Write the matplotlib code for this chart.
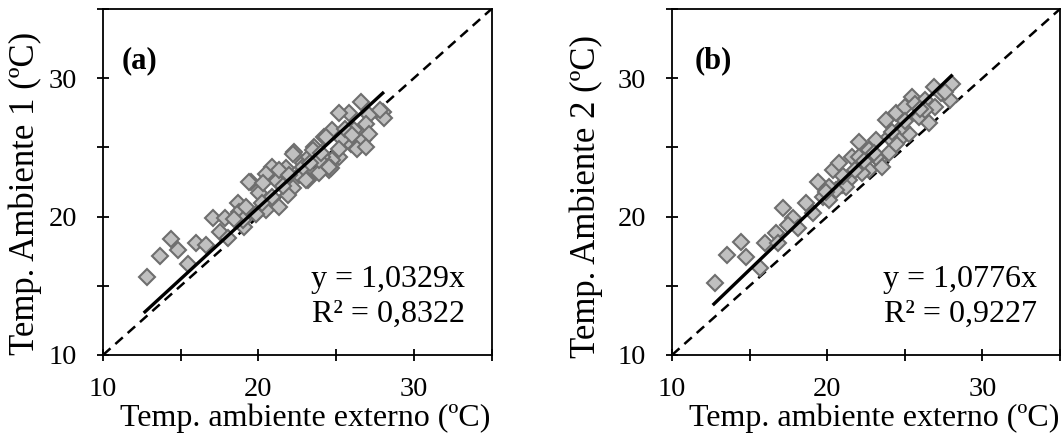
import matplotlib
matplotlib.use("Agg")
import matplotlib.pyplot as plt
import numpy as np
from matplotlib.ticker import MultipleLocator

plt.rcParams['font.family'] = ['Liberation Serif', 'DejaVu Serif']

# Panel (a) data: external ambient vs ambient 1
xa = [12.8, 13.65, 14.4, 14.83, 15.47, 16.0, 16.65, 17.07, 17.82, 17.5, 18.03, 18.67, 18.78, 19.1,
      19.53, 19.42, 22.3, 23.6, 24.2, 25.94, 26.37, 24.55, 23.9, 23.16, 22.2, 20.9, 20.5, 21.2,
      21.8, 20.06, 20.7, 21.35, 19.2, 19.85, 19.0, 22.84, 23.27, 25.2, 22.6, 21.9, 20.3,
      26.6, 28.0, 28.08, 25.83, 25.2, 27.1, 26.9, 26.15, 24.76, 24.34, 25.4, 26.7, 26.37, 27.1,
      25.2, 24.76, 24.1, 24.65, 26.9, 27.8, 22.2, 23.5, 23.06, 24.55, 23.9, 21.35, 20.9, 20.5,
      19.85, 22.84, 21.6, 22.0, 23.3, 24.0, 25.6, 26.0, 20.2, 18.4]
ya = [15.65, 17.15, 18.35, 17.6, 16.6, 18.1, 17.94, 19.87, 19.87, 18.9, 18.42, 20.95, 20.35, 19.26,
      22.5, 22.51, 24.68, 25.04, 25.76, 25.28, 24.92, 23.36, 23.12, 22.64, 22.03, 23.6, 23.1, 22.6,
      23.5, 21.67, 21.2, 20.7, 20.7, 20.2, 19.75, 23.85, 24.3, 24.3, 23.0, 21.55, 22.4,
      28.3, 27.57, 27.1, 27.45, 27.45, 27.33, 26.7, 26.25, 26.25, 25.76, 25.64, 25.5, 24.9, 26.0,
      24.9, 24.08, 24.3, 23.5, 25.04, 27.7, 24.55, 24.8, 22.63, 23.6, 24.08, 23.36, 21.4, 20.47,
      20.2, 23.6, 22.2, 23.0, 23.9, 24.6, 26.3, 25.9, 21.0, 19.8]

# Panel (b) data: external ambient vs ambient 2
xb = [12.76, 13.57, 14.47, 14.79, 15.64, 15.96, 16.71, 16.81, 17.13, 17.78, 18.1, 17.46, 18.63,
      19.06, 19.38, 19.7, 20.13, 20.34, 20.77, 20.98, 21.4, 21.62, 22.05, 22.26, 22.7, 23.12,
      22.7, 23.33, 23.76, 23.97, 24.4, 24.6, 25.04, 25.26, 25.47, 25.9, 26.33, 26.54, 26.86,
      26.97, 28.03, 27.93, 26.33, 24.83, 23.54, 22.26, 21.2, 20.56, 22.05, 24.4, 25.68, 23.97,
      23.12, 20.13, 21.8, 22.4, 23.0, 24.2, 25.0, 26.0, 27.3, 19.9, 21.0, 27.6]
yb = [15.18, 17.22, 18.18, 17.1, 16.26, 18.06, 18.79, 18.07, 20.59, 19.87, 19.15, 19.39, 20.95,
      20.23, 22.51, 21.43, 21.19, 23.36, 23.84, 22.27, 22.63, 24.32, 25.4, 23.84, 24.8, 25.52,
      23.36, 24.08, 26.97, 24.56, 27.45, 25.52, 27.93, 26.0, 28.65, 27.2, 28.41, 26.73, 29.37,
      27.93, 29.61, 28.41, 27.69, 26.48, 23.6, 23.12, 22.15, 21.91, 24.32, 25.28, 28.17, 25.76,
      24.32, 22.15, 23.4, 24.0, 24.6, 26.1, 26.9, 27.8, 28.9, 21.8, 22.9, 29.0]

slopes = [1.0329, 1.0776]
r2 = ["0,8322", "0,9227"]
eqs = ["y = 1,0329x", "y = 1,0776x"]
labels = ["(a)", "(b)"]
ylabels = ["Temp. Ambiente 1 (ºC)", "Temp. Ambiente 2 (ºC)"]
xlabel = "Temp. ambiente externo (ºC)"
fit_range = [12.7, 28.0]

fig = plt.figure(figsize=(10.63, 4.38), dpi=100)
ax1 = fig.add_axes([0.0969, 0.1895, 0.3655, 0.79])
ax2 = fig.add_axes([0.6322, 0.1895, 0.3650, 0.79])

TICK_FS = 20.5
XL_FS = 23
YL_FS = 25
EQ_FS = 23
LAB_FS = 22

ylab_x = [-0.157, -0.178]
ylab_y = [0.467, 0.459]
xlab_x = [0.52, 0.52]
lab_x = [0.049, 0.059]
eq_x = [0.933, 0.94]

for i, (ax, xs, ys, k, eq, r, lab, yl) in enumerate(zip([ax1, ax2], [xa, xb], [ya, yb], slopes, eqs, r2, labels, ylabels)):
    ax.plot([10, 35], [10, 35], linestyle=(0, (4, 2.6)), color='black', lw=1.8, zorder=1)
    ax.plot(xs, ys, linestyle='none', marker='D', ms=8.2, mfc='#c0c0c0', mec='#6e6e6e', mew=1.5, zorder=2)
    fx = np.array(fit_range)
    ax.plot(fx, k * fx, color='black', lw=2.4, zorder=3)
    ax.set_xlim(10, 35)
    ax.set_ylim(10, 35)
    ax.xaxis.set_minor_locator(MultipleLocator(5))
    ax.yaxis.set_minor_locator(MultipleLocator(5))
    ax.set_xticks([10, 20, 30])
    ax.set_yticks([10, 20, 30])
    ax.tick_params(which='both', direction='inout', length=9, width=1.3, labelsize=TICK_FS)
    ax.tick_params(axis='x', which='both', pad=11)
    ax.tick_params(axis='y', which='both', pad=14)
    for s in ax.spines.values():
        s.set_linewidth(1.3)
    ax.set_xlabel(xlabel, fontsize=XL_FS)
    ax.xaxis.set_label_coords(xlab_x[i], -0.14)
    ax.set_ylabel(yl, fontsize=YL_FS)
    ax.yaxis.set_label_coords(ylab_x[i], ylab_y[i])
    ax.text(lab_x[i], 0.83, lab, transform=ax.transAxes, fontsize=LAB_FS, fontweight='bold',
            va='baseline', ha='left')
    ax.text(eq_x[i], 0.1965, eq, transform=ax.transAxes, fontsize=EQ_FS, ha='right', va='baseline')
    ax.text(eq_x[i], 0.095, "R² = " + r, transform=ax.transAxes, fontsize=EQ_FS, ha='right', va='baseline')

fig.savefig("out.png", dpi=100)
